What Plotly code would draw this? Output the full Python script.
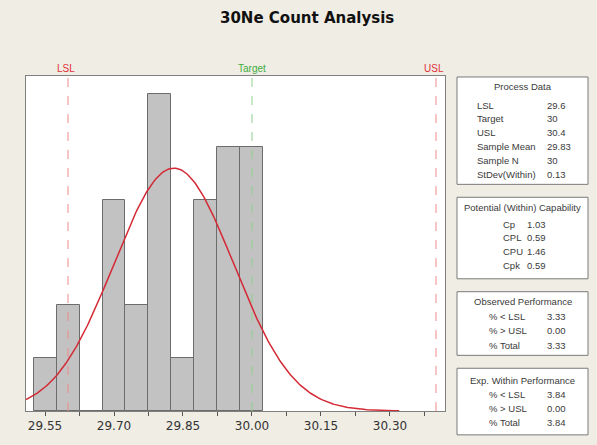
import numpy as np
import plotly.graph_objects as go

# ---- data ----
bin_centers = [29.55, 29.60, 29.65, 29.70, 29.75, 29.80, 29.85, 29.90, 29.95, 30.00]
counts = [1, 2, 0, 4, 2, 6, 1, 4, 5, 5]
bin_width = 0.05

LSL, TARGET, USL = 29.6, 30.0, 30.4
sample_mean = 29.83
sample_n = 30
stdev_within = 0.13

tick_vals = [29.55, 29.70, 29.85, 30.00, 30.15, 30.30]
tick_text = ["29.55", "29.70", "29.85", "30.00", "30.15", "30.30"]

process_data = [("LSL", "29.6"), ("Target", "30"), ("USL", "30.4"),
                ("Sample Mean", "29.83"), ("Sample N", "30"), ("StDev(Within)", "0.13")]
potential = [("Cp", "1.03"), ("CPL", "0.59"), ("CPU", "1.46"), ("Cpk", "0.59")]
observed = [("% < LSL", "3.33"), ("% > USL", "0.00"), ("% Total", "3.33")]
expected = [("% < LSL", "3.84"), ("% > USL", "0.00"), ("% Total", "3.84")]

# ---- layout geometry (pixels) ----
W, H = 597, 445
L, R, T, B = 26, 445, 76, 413
XR = [29.5087, 30.4196]
YR = [0, 6.35]

def px(xp):
    return (xp - L) / (R - L)

def py(yp):
    return (B - yp) / (B - T)

# fitted normal curve from the process data
xc = np.linspace(XR[0], 30.32, 300)
yc = sample_n * bin_width * np.exp(-0.5 * ((xc - sample_mean) / stdev_within) ** 2) / (stdev_within * np.sqrt(2 * np.pi))

fig = go.Figure()
fig.add_trace(go.Bar(x=bin_centers, y=counts, width=bin_width,
                     marker=dict(color="#c2c2c2", line=dict(color="#6c6c6c", width=1)),
                     hoverinfo="x+y"))
fig.add_trace(go.Scatter(x=xc, y=yc, mode="lines",
                         line=dict(color="#d42a35", width=1.5), hoverinfo="skip"))

shapes = []
annotations = []

spec_col = {"LSL": ("#f08a8a", "#e0303a"), "Target": ("#8fd08f", "#3fae3f"), "USL": ("#f08a8a", "#e0303a")}
for name, val, dx in [("LSL", LSL, -2), ("Target", TARGET, 0), ("USL", USL, -2)]:
    lc, tc = spec_col[name]
    shapes.append(dict(type="line", xref="x", yref="paper", x0=val, x1=val, y0=0, y1=1,
                       line=dict(color=lc, width=1, dash="dash")))
    annotations.append(dict(x=val, xref="x", y=py(68), yref="paper", text=name, showarrow=False,
                            xshift=dx, font=dict(family="Liberation Sans", size=10, color=tc),
                            xanchor="center", yanchor="middle"))

# title
annotations.append(dict(x=px(307), xref="paper", y=py(18), yref="paper", text="<b>30Ne Count Analysis</b>",
                        showarrow=False, font=dict(family="DejaVu Sans", size=15, color="#111111"),
                        xanchor="center", yanchor="middle"))

boxes = [
    (77, 185, "Process Data", 87, process_data, [106, 118.5, 132.5, 146.5, 161, 175], 475, 545),
    (198, 280, "Potential (Within) Capability", 208, potential, [225, 238.5, 253, 266.5], 501, 525),
    (293, 357, "Observed Performance", 303, observed, [318, 332.5, 347], 487, 545),
    (370, 437, "Exp. Within Performance", 382, expected, [396.5, 410.5, 424.5], 487, 545),
]
bx0, bx1 = 457, 588
tf = dict(family="Liberation Sans", size=9.5, color="#3a3a3a")
for top, bot, title, ty, rows, rys, lx, vx in boxes:
    shapes.append(dict(type="rect", xref="paper", yref="paper", x0=px(bx0), x1=px(bx1),
                       y0=py(bot), y1=py(top), fillcolor="white",
                       line=dict(color="#7a7a7a", width=1), layer="below"))
    annotations.append(dict(x=px((bx0 + bx1) / 2), xref="paper", y=py(ty), yref="paper", text=title,
                            showarrow=False, font=tf, xanchor="center", yanchor="middle"))
    for (lab, val), ry in zip(rows, rys):
        annotations.append(dict(x=px(lx), xref="paper", y=py(ry), yref="paper", text=lab,
                                showarrow=False, font=tf, xanchor="left", yanchor="middle"))
        annotations.append(dict(x=px(vx), xref="paper", y=py(ry), yref="paper", text=val,
                                showarrow=False, font=tf, xanchor="left", yanchor="middle"))

fig.update_layout(
    width=W, height=H,
    margin=dict(l=L, r=W - R, t=T, b=H - B, pad=0),
    paper_bgcolor="#f0ede4", plot_bgcolor="white",
    showlegend=False, bargap=0,
    shapes=shapes, annotations=annotations,
    xaxis=dict(range=XR, tickvals=tick_vals, ticktext=tick_text, ticks="outside", ticklen=4,
               tickcolor="#555555", showgrid=False, zeroline=False, showline=True, mirror=True,
               linecolor="#808080", linewidth=1,
               minor=dict(tickvals=[29.625, 29.775, 29.925, 30.075, 30.225, 30.375],
                          ticks="outside", ticklen=4, tickcolor="#555555"),
               tickfont=dict(family="DejaVu Sans", size=12, color="#333333")),
    yaxis=dict(range=YR, showticklabels=False, ticks="", showgrid=False, zeroline=False,
               showline=True, mirror=True, linecolor="#808080", linewidth=1),
)

fig.write_html("out.html", config={"displayModeBar": False},
               post_script="document.body.style.margin='0';document.body.style.background='#f0ede4';")
